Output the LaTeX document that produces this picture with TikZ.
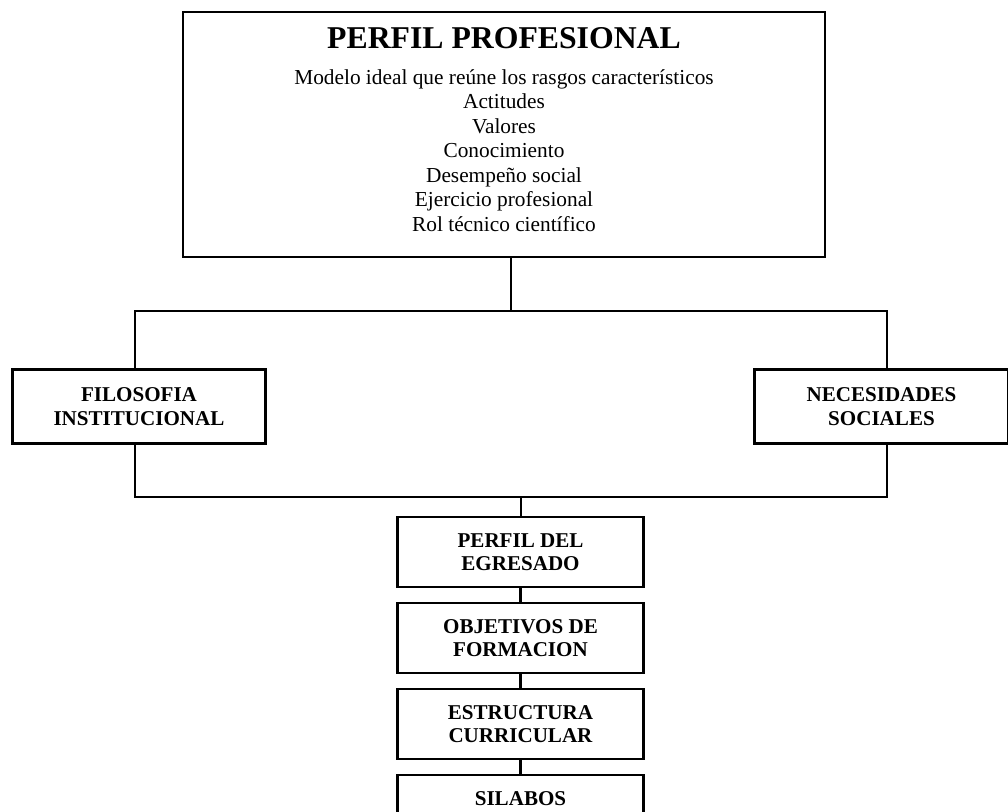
\documentclass[tikz,border=0pt]{standalone}
\usepackage{fontspec}
\setmainfont{Liberation Serif}
\usetikzlibrary{positioning}

\begin{document}
\begin{tikzpicture}[x=0.75pt, y=-0.75pt, node distance=9.8pt]
    % Define styles
    \tikzstyle{box} = [rectangle, draw, line width=2.2pt, fill=white, align=center, inner sep=2pt, font=\fontsize{15.8}{17.5}\selectfont\bfseries]
    \tikzstyle{sidebox} = [box, minimum width=190pt, minimum height=55pt]
    \tikzstyle{stagebox} = [box, minimum width=185pt, minimum height=52.5pt]
    \tikzstyle{link} = [line width=1.6pt]

    \clip (0,0) rectangle (1008,812);

    % Boxes
    \node [rectangle, draw, line width=2.2pt, minimum width=481.5pt, minimum height=183.75pt, text depth=7.5pt, align=center, font=\fontsize{16}{18.4}\selectfont] (perfil) at (504,134.5)
        {{\fontsize{23.8}{27}\selectfont\bfseries PERFIL PROFESIONAL}\\[8.2pt]
         Modelo ideal que reúne los rasgos característicos\\
         Actitudes\\
         Valores\\
         Conocimiento\\
         Desempeño social\\
         Ejercicio profesional\\
         Rol técnico científico};
    \node [sidebox] (filosofia) at (139,406.5) {FILOSOFIA\\INSTITUCIONAL};
    \node [sidebox] (necesidades) at (881.5,406.5) {NECESIDADES\\SOCIALES};
    \node [stagebox] (egresado) at (520.5,552) {PERFIL DEL\\EGRESADO};
    \node [stagebox, below=of egresado] (objetivos) {OBJETIVOS DE\\FORMACION};
    \node [stagebox, below=of objetivos] (estructura) {ESTRUCTURA\\CURRICULAR};
    \node [stagebox, below=of estructura] (silabos) {SILABOS\\~};

    % Lines
    \coordinate (bartop) at (511,311);
    \coordinate (barbot) at (521,497);
    \draw [link] (perfil.south -| bartop) -- (bartop);
    \draw [link] ([xshift=-3pt]filosofia.north) |- (bartop) -| ([xshift=4pt]necesidades.north);
    \draw [link] ([xshift=-3pt]filosofia.south) |- (barbot) -| ([xshift=4pt]necesidades.south);
    \draw [link] (barbot) -- (barbot |- egresado.north);
    \draw [link] (egresado) -- (objetivos);
    \draw [link] (objetivos) -- (estructura);
    \draw [link] (estructura) -- (silabos);
\end{tikzpicture}
\end{document}
